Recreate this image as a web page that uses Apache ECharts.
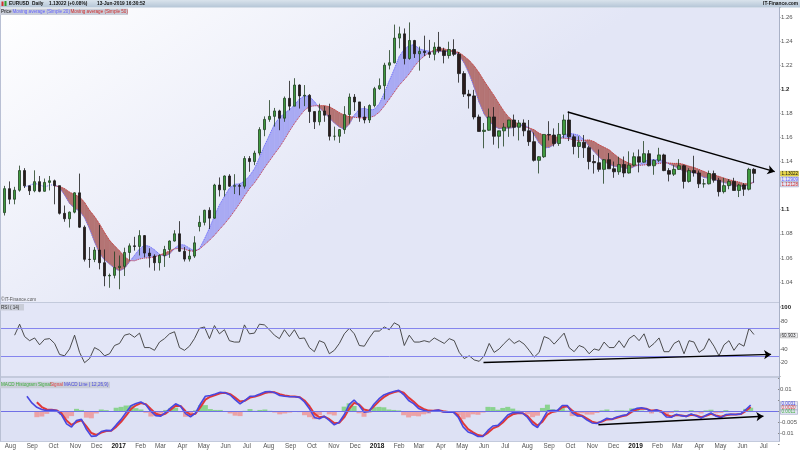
<!DOCTYPE html>
<html><head><meta charset="utf-8">
<script src="https://cdn.jsdelivr.net/npm/echarts@6/dist/echarts.min.js"></script>
<style>html,body{margin:0;padding:0;background:#fff}#c{width:800px;height:450px}</style>
</head><body><div id="c"></div>
<script>
// ---- weekly EUR/USD data (week centre dates) ----
const dates = [
'2016-07-27','2016-08-03','2016-08-10','2016-08-17','2016-08-24','2016-08-31','2016-09-07','2016-09-14','2016-09-21','2016-09-28',
'2016-10-05','2016-10-12','2016-10-19','2016-10-26','2016-11-02','2016-11-09','2016-11-16','2016-11-23','2016-11-30','2016-12-07',
'2016-12-14','2016-12-21','2016-12-28','2017-01-04','2017-01-11','2017-01-18','2017-01-25','2017-02-01','2017-02-08','2017-02-15',
'2017-02-22','2017-03-01','2017-03-08','2017-03-15','2017-03-22','2017-03-29','2017-04-05','2017-04-12','2017-04-19','2017-04-26',
'2017-05-03','2017-05-10','2017-05-17','2017-05-24','2017-05-31','2017-06-07','2017-06-14','2017-06-21','2017-06-28','2017-07-05',
'2017-07-12','2017-07-19','2017-07-26','2017-08-02','2017-08-09','2017-08-16','2017-08-23','2017-08-30','2017-09-06','2017-09-13',
'2017-09-20','2017-09-27','2017-10-04','2017-10-11','2017-10-18','2017-10-25','2017-11-01','2017-11-08','2017-11-15','2017-11-22',
'2017-11-29','2017-12-06','2017-12-13','2017-12-20','2017-12-27','2018-01-03','2018-01-10','2018-01-17','2018-01-24','2018-01-31',
'2018-02-07','2018-02-14','2018-02-21','2018-02-28','2018-03-07','2018-03-14','2018-03-21','2018-03-28','2018-04-04','2018-04-11',
'2018-04-18','2018-04-25','2018-05-02','2018-05-09','2018-05-16','2018-05-23','2018-05-30','2018-06-06','2018-06-13','2018-06-20',
'2018-06-27','2018-07-04','2018-07-11','2018-07-18','2018-07-25','2018-08-01','2018-08-08','2018-08-15','2018-08-22','2018-08-29',
'2018-09-05','2018-09-12','2018-09-19','2018-09-26','2018-10-03','2018-10-10','2018-10-17','2018-10-24','2018-10-31','2018-11-07',
'2018-11-14','2018-11-21','2018-11-28','2018-12-05','2018-12-12','2018-12-19','2018-12-26','2019-01-02','2019-01-09','2019-01-16',
'2019-01-23','2019-01-30','2019-02-06','2019-02-13','2019-02-20','2019-02-27','2019-03-06','2019-03-13','2019-03-20','2019-03-27',
'2019-04-03','2019-04-10','2019-04-17','2019-04-24','2019-05-01','2019-05-08','2019-05-15','2019-05-22','2019-05-29','2019-06-05',
'2019-06-12'];
const openP = [
1.0976,1.1175,1.1087,1.1162,1.1325,1.1198,1.1157,1.1233,1.1153,1.1227,
1.1240,1.1200,1.0970,1.0925,1.0980,1.1140,1.0855,1.0588,1.0587,1.0665,
1.0560,1.0450,1.0455,1.0520,1.0530,1.0645,1.0700,1.0695,1.0785,1.0640,
1.0615,1.0560,1.0620,1.0670,1.0740,1.0800,1.0655,1.0590,1.0615,1.0860,
1.0895,1.0995,1.0930,1.1205,1.1165,1.1280,1.1195,1.1200,1.1195,1.1425,
1.1400,1.1470,1.1665,1.1750,1.1775,1.1820,1.1760,1.1925,1.1860,1.2035,
1.1945,1.1950,1.1815,1.1730,1.1820,1.1785,1.1610,1.1610,1.1665,1.1790,
1.1935,1.1895,1.1770,1.1745,1.1865,1.2005,1.2030,1.2200,1.2220,1.2425,
1.2460,1.2255,1.2405,1.2295,1.2315,1.2305,1.2290,1.2350,1.2320,1.2280,
1.2330,1.2290,1.2130,1.1960,1.1945,1.1770,1.1650,1.1660,1.1770,1.1610,
1.1655,1.1685,1.1745,1.1685,1.1720,1.1655,1.1565,1.1410,1.1440,1.1625,
1.1620,1.1550,1.1625,1.1745,1.1605,1.1525,1.1560,1.1515,1.1400,1.1390,
1.1335,1.1415,1.1340,1.1315,1.1375,1.1305,1.1370,1.1440,1.1395,1.1465,
1.1365,1.1410,1.1455,1.1325,1.1295,1.1335,1.1365,1.1235,1.1325,1.1305,
1.1215,1.1215,1.1300,1.1245,1.1150,1.1200,1.1235,1.1160,1.1205,1.1170,
1.1335];
const highP = [
1.1198,1.1235,1.1190,1.1366,1.1345,1.1200,1.1327,1.1280,1.1259,1.1280,
1.1250,1.1200,1.1035,1.0985,1.1145,1.1300,1.0870,1.0690,1.0690,1.0873,
1.0670,1.0470,1.0653,1.0620,1.0685,1.0720,1.0775,1.0830,1.0790,1.0680,
1.0630,1.0630,1.0700,1.0745,1.0830,1.0905,1.0690,1.0670,1.0780,1.0950,
1.1000,1.1020,1.1215,1.1268,1.1285,1.1295,1.1295,1.1215,1.1445,1.1445,
1.1490,1.1685,1.1775,1.1910,1.1845,1.1830,1.1940,1.2070,1.2092,1.2040,
1.2035,1.1960,1.1815,1.1880,1.1860,1.1880,1.1690,1.1670,1.1860,1.1965,
1.1960,1.1895,1.1860,1.1875,1.2020,1.2090,1.2220,1.2325,1.2537,1.2520,
1.2505,1.2555,1.2410,1.2355,1.2445,1.2410,1.2390,1.2476,1.2345,1.2395,
1.2415,1.2310,1.2150,1.1995,1.1995,1.1790,1.1720,1.1840,1.1852,1.1650,
1.1720,1.1745,1.1790,1.1745,1.1750,1.1745,1.1640,1.1445,1.1625,1.1735,
1.1675,1.1720,1.1790,1.1815,1.1625,1.1610,1.1620,1.1530,1.1455,1.1500,
1.1420,1.1470,1.1400,1.1440,1.1442,1.1485,1.1475,1.1500,1.1570,1.1495,
1.1420,1.1514,1.1465,1.1345,1.1370,1.1420,1.1375,1.1345,1.1448,1.1325,
1.1255,1.1325,1.1325,1.1265,1.1265,1.1255,1.1265,1.1215,1.1220,1.1348,
1.1345];
const lowP = [
1.0952,1.1046,1.1045,1.1150,1.1180,1.1122,1.1145,1.1145,1.1150,1.1160,
1.1045,1.0960,1.0900,1.0852,1.0970,1.0850,1.0570,1.0518,1.0565,1.0505,
1.0365,1.0352,1.0430,1.0340,1.0450,1.0580,1.0660,1.0620,1.0605,1.0520,
1.0494,1.0495,1.0525,1.0600,1.0735,1.0650,1.0570,1.0570,1.0600,1.0820,
1.0870,1.0840,1.0925,1.1110,1.1110,1.1190,1.1130,1.1120,1.1175,1.1315,
1.1370,1.1450,1.1610,1.1730,1.1690,1.1660,1.1730,1.1825,1.1860,1.1840,
1.1860,1.1720,1.1670,1.1700,1.1730,1.1575,1.1575,1.1555,1.1630,1.1715,
1.1820,1.1730,1.1717,1.1720,1.1850,1.1995,1.1915,1.2165,1.2215,1.2340,
1.2206,1.2245,1.2260,1.2155,1.2275,1.2260,1.2240,1.2300,1.2215,1.2255,
1.2275,1.2055,1.1936,1.1840,1.1750,1.1650,1.1510,1.1655,1.1540,1.1510,
1.1525,1.1605,1.1610,1.1575,1.1610,1.1530,1.1400,1.1301,1.1430,1.1575,
1.1525,1.1530,1.1595,1.1570,1.1460,1.1430,1.1430,1.1335,1.1300,1.1315,
1.1216,1.1340,1.1265,1.1290,1.1270,1.1300,1.1360,1.1310,1.1390,1.1360,
1.1290,1.1395,1.1320,1.1235,1.1280,1.1330,1.1176,1.1225,1.1275,1.1180,
1.1183,1.1210,1.1225,1.1110,1.1135,1.1170,1.1160,1.1105,1.1115,1.1160,
1.1225];
const closeP = [
1.1175,1.1087,1.1162,1.1325,1.1198,1.1157,1.1233,1.1153,1.1227,1.1240,
1.1200,1.0970,1.0925,1.0980,1.1140,1.0855,1.0588,1.0587,1.0665,1.0560,
1.0450,1.0455,1.0520,1.0530,1.0645,1.0700,1.0695,1.0785,1.0640,1.0615,
1.0560,1.0620,1.0670,1.0740,1.0800,1.0655,1.0590,1.0615,1.0725,1.0895,
1.0995,1.0930,1.1205,1.1165,1.1280,1.1195,1.1200,1.1195,1.1425,1.1400,
1.1470,1.1665,1.1750,1.1775,1.1820,1.1760,1.1925,1.1860,1.2035,1.1945,
1.1950,1.1815,1.1730,1.1820,1.1785,1.1610,1.1610,1.1665,1.1790,1.1935,
1.1895,1.1770,1.1745,1.1865,1.2005,1.2030,1.2200,1.2220,1.2425,1.2460,
1.2255,1.2405,1.2295,1.2315,1.2305,1.2290,1.2350,1.2320,1.2280,1.2330,
1.2290,1.2130,1.1960,1.1945,1.1770,1.1650,1.1660,1.1770,1.1610,1.1655,
1.1685,1.1745,1.1685,1.1720,1.1655,1.1565,1.1410,1.1440,1.1625,1.1620,
1.1550,1.1625,1.1745,1.1605,1.1525,1.1560,1.1515,1.1400,1.1390,1.1335,
1.1415,1.1340,1.1315,1.1375,1.1305,1.1370,1.1440,1.1395,1.1465,1.1365,
1.1410,1.1455,1.1325,1.1295,1.1335,1.1365,1.1235,1.1325,1.1305,1.1215,
1.1215,1.1300,1.1245,1.1150,1.1200,1.1235,1.1160,1.1205,1.1170,1.1335,
1.1302];
const ma20 = [
null,null,null,null,1.1190,1.1202,1.1219,1.1207,1.1189,1.1203,
1.1209,1.1182,1.1122,1.1052,1.1012,1.0990,1.0933,1.0842,1.0733,1.0637,
1.0583,1.0549,1.0514,1.0493,1.0513,1.0568,1.0621,1.0674,1.0706,1.0695,
1.0667,1.0630,1.0613,1.0632,1.0678,1.0712,1.0706,1.0681,1.0656,1.0676,
1.0757,1.0847,1.0946,1.1040,1.1110,1.1178,1.1211,1.1214,1.1236,1.1280,
1.1339,1.1431,1.1531,1.1618,1.1709,1.1764,1.1798,1.1831,1.1868,1.1918,
1.1944,1.1942,1.1898,1.1845,1.1808,1.1762,1.1721,1.1687,1.1668,1.1710,
1.1786,1.1834,1.1842,1.1828,1.1833,1.1879,1.1968,1.2070,1.2167,1.2273,
1.2333,1.2363,1.2370,1.2336,1.2324,1.2316,1.2308,1.2316,1.2313,1.2315,
1.2313,1.2281,1.2218,1.2129,1.2016,1.1891,1.1794,1.1734,1.1693,1.1673,
1.1677,1.1677,1.1683,1.1701,1.1705,1.1679,1.1622,1.1553,1.1514,1.1517,
1.1542,1.1582,1.1620,1.1633,1.1628,1.1617,1.1580,1.1526,1.1483,1.1438,
1.1398,1.1378,1.1361,1.1356,1.1348,1.1338,1.1357,1.1375,1.1398,1.1417,
1.1413,1.1417,1.1407,1.1380,1.1362,1.1341,1.1319,1.1311,1.1311,1.1289,
1.1268,1.1262,1.1252,1.1236,1.1226,1.1216,1.1197,1.1193,1.1196,1.1205,
1.1235];
const ma50 = [
null,null,null,null,null,null,null,null,null,null,
1.1197,1.1192,1.1175,1.1146,1.1125,1.1107,1.1060,1.0995,1.0943,1.0881,
1.0810,1.0746,1.0700,1.0658,1.0610,1.0578,1.0576,1.0591,1.0599,1.0601,
1.0609,1.0623,1.0639,1.0657,1.0675,1.0680,1.0673,1.0659,1.0655,1.0673,
1.0709,1.0746,1.0788,1.0836,1.0882,1.0933,1.0990,1.1050,1.1114,1.1174,
1.1223,1.1283,1.1347,1.1405,1.1463,1.1518,1.1582,1.1652,1.1716,1.1773,
1.1825,1.1856,1.1863,1.1864,1.1864,1.1855,1.1832,1.1806,1.1784,1.1772,
1.1768,1.1763,1.1762,1.1765,1.1778,1.1810,1.1861,1.1918,1.1977,1.2035,
1.2080,1.2129,1.2189,1.2239,1.2276,1.2304,1.2325,1.2337,1.2335,1.2321,
1.2316,1.2304,1.2274,1.2239,1.2193,1.2135,1.2068,1.2006,1.1945,1.1878,
1.1814,1.1764,1.1731,1.1706,1.1689,1.1679,1.1663,1.1634,1.1618,1.1617,
1.1608,1.1596,1.1593,1.1590,1.1578,1.1571,1.1576,1.1579,1.1565,1.1539,
1.1518,1.1497,1.1462,1.1429,1.1406,1.1386,1.1372,1.1368,1.1372,1.1377,
1.1378,1.1384,1.1390,1.1387,1.1384,1.1385,1.1375,1.1361,1.1350,1.1334,
1.1317,1.1299,1.1288,1.1276,1.1262,1.1249,1.1239,1.1229,1.1216,1.1216,
1.1226];
const rsi14 = [
null,null,60,76,58,52,56,46,54,55,
48,32,30,40,60,35,20,26,42,38,
30,33,45,48,60,62,57,63,42,42,
38,50,55,62,65,42,38,44,55,70,
72,55,74,62,68,52,50,50,75,62,
63,76,75,68,60,55,68,58,68,55,
56,42,36,52,49,33,38,48,62,70,
62,45,44,56,66,66,72,68,78,74,
45,60,50,50,52,50,56,52,48,55,
52,35,26,30,24,22,30,48,35,40,
48,55,48,52,47,38,28,35,58,55,
47,55,63,42,36,45,42,33,40,38,
50,42,42,52,42,55,60,52,62,42,
48,56,36,36,48,52,33,52,50,35,
40,55,44,30,46,52,38,48,44,70,
61];
const macdLine = [
null,null,null,null,0.0070,0.0040,0.0020,0.0010,0.0005,0.0008,
0.0005,-0.0015,-0.0055,-0.0070,-0.0040,-0.0035,-0.0080,-0.0112,-0.0110,-0.0090,
-0.0085,-0.0086,-0.0060,-0.0035,-0.0004,0.0027,0.0037,0.0044,0.0031,0.0001,
-0.0018,-0.0020,-0.0003,0.0017,0.0036,0.0025,-0.0009,-0.0023,-0.0006,0.0035,
0.0070,0.0074,0.0080,0.0088,0.0086,0.0076,0.0055,0.0036,0.0052,0.0070,
0.0071,0.0080,0.0090,0.0092,0.0086,0.0074,0.0070,0.0068,0.0068,0.0065,
0.0044,0.0013,-0.0026,-0.0032,-0.0021,-0.0040,-0.0060,-0.0048,-0.0014,0.0032,
0.0053,0.0029,-0.0002,0.0001,0.0034,0.0058,0.0076,0.0085,0.0092,0.0097,
0.0078,0.0051,0.0037,0.0015,0.0007,0.0000,0.0004,0.0008,-0.0001,-0.0002,
-0.0001,-0.0025,-0.0069,-0.0092,-0.0100,-0.0113,-0.0112,-0.0085,-0.0065,-0.0062,
-0.0040,-0.0015,-0.0005,-0.0005,-0.0007,-0.0026,-0.0057,-0.0072,-0.0036,0.0003,
0.0005,0.0005,0.0028,0.0028,-0.0005,-0.0019,-0.0021,-0.0038,-0.0051,-0.0054,
-0.0042,-0.0030,-0.0034,-0.0024,-0.0018,-0.0014,0.0007,0.0015,0.0018,0.0012,
0.0001,0.0009,-0.0001,-0.0024,-0.0025,-0.0012,-0.0018,-0.0022,-0.0010,-0.0019,
-0.0029,-0.0016,-0.0006,-0.0020,-0.0027,-0.0013,-0.0012,-0.0013,-0.0010,0.0009,
0.0030];
const macdSignal = [
null,null,null,null,null,null,0.0043,0.0021,0.0010,0.0009,
0.0006,-0.0008,-0.0040,-0.0060,-0.0047,-0.0039,-0.0067,-0.0097,-0.0106,-0.0095,
-0.0088,-0.0087,-0.0069,-0.0046,-0.0018,0.0012,0.0029,0.0039,0.0034,0.0012,
-0.0009,-0.0016,-0.0008,0.0009,0.0027,0.0026,0.0002,-0.0014,-0.0009,0.0021,
0.0055,0.0068,0.0076,0.0084,0.0086,0.0080,0.0064,0.0046,0.0050,0.0064,
0.0069,0.0076,0.0085,0.0090,0.0088,0.0080,0.0074,0.0070,0.0069,0.0066,
0.0051,0.0025,-0.0009,-0.0025,-0.0022,-0.0034,-0.0052,-0.0050,-0.0026,0.0013,
0.0040,0.0033,0.0010,0.0004,0.0024,0.0047,0.0066,0.0080,0.0088,0.0094,
0.0086,0.0064,0.0046,0.0025,0.0013,0.0005,0.0004,0.0007,0.0002,-0.0001,
-0.0001,-0.0017,-0.0052,-0.0079,-0.0094,-0.0106,-0.0110,-0.0096,-0.0076,-0.0067,
-0.0049,-0.0026,-0.0012,-0.0007,-0.0007,-0.0020,-0.0045,-0.0063,-0.0045,-0.0013,
-0.0001,0.0003,0.0020,0.0025,0.0005,-0.0011,-0.0018,-0.0031,-0.0045,-0.0051,
-0.0045,-0.0035,-0.0034,-0.0028,-0.0021,-0.0016,-0.0001,0.0010,0.0015,0.0013,
0.0005,0.0007,0.0002,-0.0015,-0.0022,-0.0015,-0.0017,-0.0021,-0.0014,-0.0017,
-0.0025,-0.0019,-0.0010,-0.0017,-0.0023,-0.0016,-0.0013,-0.0013,-0.0011,0.0003,
0.0021];
const macdHist = [
null,null,null,null,null,null,-0.0025,-0.0022,-0.0010,-0.0001,
-0.0002,-0.0014,-0.0031,-0.0020,0.0013,0.0008,-0.0027,-0.0030,-0.0008,0.0010,
0.0007,0.0002,0.0018,0.0022,0.0028,0.0029,0.0016,0.0010,-0.0005,-0.0022,
-0.0020,-0.0008,0.0008,0.0016,0.0018,-0.0002,-0.0023,-0.0016,0.0006,0.0029,
0.0030,0.0012,0.0008,0.0008,0.0000,-0.0008,-0.0018,-0.0020,0.0004,0.0012,
0.0004,0.0008,0.0010,0.0004,-0.0004,-0.0012,-0.0008,-0.0004,-0.0001,-0.0002,
-0.0016,-0.0025,-0.0034,-0.0015,0.0002,-0.0012,-0.0017,0.0002,0.0023,0.0038,
0.0026,-0.0007,-0.0023,-0.0005,0.0020,0.0022,0.0020,0.0010,0.0008,0.0006,
-0.0016,-0.0026,-0.0019,-0.0021,-0.0012,-0.0008,0.0000,0.0003,-0.0005,-0.0002,
0.0000,-0.0016,-0.0034,-0.0026,-0.0012,-0.0014,-0.0004,0.0022,0.0021,0.0009,
0.0017,0.0022,0.0014,0.0005,0.0000,-0.0012,-0.0025,-0.0018,0.0017,0.0032,
0.0011,0.0004,0.0017,0.0005,-0.0020,-0.0016,-0.0007,-0.0013,-0.0013,-0.0006,
0.0006,0.0010,0.0001,0.0006,0.0006,0.0005,0.0015,0.0010,0.0005,-0.0002,
-0.0008,0.0003,-0.0006,-0.0017,-0.0006,0.0006,-0.0002,-0.0003,0.0007,-0.0003,
-0.0008,0.0006,0.0009,-0.0007,-0.0006,0.0007,0.0003,0.0000,0.0002,0.0013,
0.0018];
// trend-line annotations (date, value)
const priceTrend = [['2018-09-24', 1.1811], ['2019-07-11', 1.1316]];
const rsiTrend = [['2018-05-29', 20.2], ['2019-07-06', 32.1]];
const macdTrend = [['2018-11-09', -0.0059], ['2019-06-30', -0.0021]];
const monthNames = ['Jan','Feb','Mar','Apr','May','Jun','Jul','Aug','Sep','Oct','Nov','Dec'];

// ---- build ----
const ts = d => Date.parse(d + 'T12:00:00Z');
const T = dates.map(ts);
const X_MIN = Date.UTC(2016, 6, 21), X_MAX = Date.UTC(2019, 6, 17, 14);
const candles = T.map((t, i) => [t, openP[i], closeP[i], lowP[i], highP[i]]);
const pairs = arr => T.map((t, i) => [t, arr[i]]);
const band = [];
for (let i = 0; i < T.length - 1; i++) {
  if (ma20[i] != null && ma50[i] != null) band.push([T[i], ma20[i], ma50[i], T[i + 1], ma20[i + 1], ma50[i + 1]]);
}
const tl = (a, style) => [Object.assign({ coord: [ts(a[0][0]), a[0][1]], symbol: 'none' }, style ? { lineStyle: style } : {}),
  { coord: [ts(a[1][0]), a[1][1]], symbol: 'arrow', symbolSize: 7 }];
const FONT = 'Liberation Sans, Arial, sans-serif';
const BLUE_BAND = '#a9aaf3', RED_BAND = '#b47474';
const TREND = { color: '#000', width: 1.4, type: 'solid' };
const isMult = (v, step) => Math.abs(v / step - Math.round(v / step)) < 1e-6;

const xBase = (gi, show) => ({
  type: 'time', gridIndex: gi, min: X_MIN, max: X_MAX,
  minInterval: 28 * 864e5, maxInterval: 31 * 864e5,
  splitLine: { show: false }, axisLine: { show: false }, axisTick: { show: false },
  axisLabel: show ? {
    show: true, fontSize: 6.3, color: '#555', fontFamily: FONT, margin: 2, hideOverlap: false,
    formatter: v => { const d = new Date(v); return d.getMonth() === 0 ? '{y|' + d.getFullYear() + '}' : monthNames[d.getMonth()]; },
    rich: { y: { fontWeight: 'bold', color: '#111', fontSize: 6.5, fontFamily: FONT } }
  } : { show: false },
  offset: show ? -3.7 : 0
});
const yLab = (fmt) => ({ fontSize: 6, color: '#555', fontFamily: FONT, margin: 2, formatter: fmt,
  rich: { b: { fontWeight: 'bold', color: '#222', fontSize: 6, fontFamily: FONT } } });
const yTick = { show: true, length: 1.5, lineStyle: { color: '#888' } };

const txt = (x, y, s, color, size, bold, align) => ({ type: 'text', x, y, z: 60,
  style: { text: s, fill: color, font: (bold ? 'bold ' : '') + size + 'px ' + FONT, textVerticalAlign: 'middle', textAlign: align || 'left' } });
const box = (x, y, w, h, fill, stroke) => ({ type: 'rect', z: 55, shape: { x, y, width: w, height: h }, style: { fill, stroke: stroke || null, lineWidth: stroke ? 0.6 : 0 } });

// price scale: 1.26 at y=17, 1.04 at y=282 (1204.5 px per unit); grid starts under the title bar
const PX = 1204.5, P_TOP = 7.5, P_MAX = 1.26 + (17 - P_TOP) / PX, P_MIN = 1.02;

const chart = echarts.init(document.getElementById('c'), null, { renderer: 'canvas' });
chart.setOption({
  animation: false,
  textStyle: { fontFamily: FONT },
  grid: [
    { left: 0, right: 21, top: P_TOP, height: (P_MAX - P_MIN) * PX },
    { left: 0, right: 21, top: 307.7, height: 68.75 },
    { left: 0, right: 21, top: 378.7, height: 66.45 }
  ],
  xAxis: [xBase(0, false), xBase(1, false), xBase(2, true)],
  yAxis: [
    { gridIndex: 0, type: 'value', position: 'right', min: P_MIN, max: P_MAX, interval: 0.02,
      splitLine: { show: false }, axisLine: { show: false }, axisTick: yTick,
      axisLabel: yLab(v => { if (v < 1.03 || v > 1.265 || !isMult(v, 0.02) || Math.abs(v - 1.12) < 1e-6) return ''; const s = String(+v.toFixed(2)); return isMult(v, 0.1) ? '{b|' + s + '}' : s; }) },
    { gridIndex: 1, type: 'value', position: 'right', min: 0, max: 100, interval: 20,
      splitLine: { show: false }, axisLine: { show: false }, axisTick: yTick,
      axisLabel: yLab(v => (v === 0 || v === 60) ? '' : (v === 100 ? '{b|100}' : String(v))) },
    { gridIndex: 2, type: 'value', position: 'right', min: -0.015, max: 0.015, interval: 0.005,
      splitLine: { show: false }, axisLine: { show: false }, axisTick: yTick,
      axisLabel: yLab(v => (Math.abs(v) > 0.012 || (v > -1e-9 && v < 0.008)) ? '' : String(+v.toFixed(3))) }
  ],
  series: [
    { type: 'custom', name: 'band', xAxisIndex: 0, yAxisIndex: 0, z: 1, clip: true,
      dimensions: ['t', 'a', 'b', 't1', 'a1', 'b1'], encode: { x: [0, 3], y: [1, 2, 4, 5] },
      data: band,
      renderItem: function (params, api) {
        const t0 = api.value(0), a0 = api.value(1), b0 = api.value(2), t1 = api.value(3), a1 = api.value(4), b1 = api.value(5);
        const d0 = a0 - b0, d1 = a1 - b1;
        const P = (t, v) => api.coord([t, v]);
        const poly = (pts, up) => ({ type: 'polygon', shape: { points: pts }, style: { fill: up ? BLUE_BAND : RED_BAND, stroke: up ? BLUE_BAND : RED_BAND, lineWidth: 0.6 } });
        const ch = [];
        if (d0 * d1 >= 0) {
          ch.push(poly([P(t0, a0), P(t1, a1), P(t1, b1), P(t0, b0)], (d0 + d1) >= 0));
        } else {
          const f = d0 / (d0 - d1), tc = t0 + f * (t1 - t0), vc = a0 + f * (a1 - a0);
          ch.push(poly([P(t0, a0), P(tc, vc), P(t0, b0)], d0 > 0));
          ch.push(poly([P(tc, vc), P(t1, a1), P(t1, b1)], d1 > 0));
        }
        return { type: 'group', children: ch };
      } },
    { type: 'line', name: 'MA20', xAxisIndex: 0, yAxisIndex: 0, z: 2, data: pairs(ma20), showSymbol: false,
      lineStyle: { color: '#6b6bff', width: 1, type: 'dotted' } },
    { type: 'line', name: 'MA50', xAxisIndex: 0, yAxisIndex: 0, z: 2, data: pairs(ma50), showSymbol: false,
      lineStyle: { color: '#d03a3a', width: 1, type: 'dotted' } },
    { type: 'candlestick', name: 'EURUSD', xAxisIndex: 0, yAxisIndex: 0, z: 3, barWidth: 3,
      encode: { x: 0, y: [1, 2, 3, 4] }, data: candles,
      itemStyle: { color: '#3f9a3f', color0: '#2a1c1c', borderColor: '#1f3f1f', borderColor0: '#1a1a1a', borderWidth: 0.8 },
      markLine: { silent: true, animation: false, symbol: 'none', label: { show: false },
        lineStyle: TREND, data: [tl(priceTrend)] } },
    { type: 'line', name: 'RSI', xAxisIndex: 1, yAxisIndex: 1, z: 3, data: pairs(rsi14), showSymbol: false,
      lineStyle: { color: '#3a3a3a', width: 0.9 },
      markLine: { silent: true, animation: false, symbol: 'none', label: { show: false },
        lineStyle: { color: '#8585ee', width: 1, type: 'solid' },
        data: [{ yAxis: 70 }, { yAxis: 30 }, tl(rsiTrend, TREND)] } },
    { type: 'bar', name: 'Hist', xAxisIndex: 2, yAxisIndex: 2, z: 2, barWidth: 5, data: pairs(macdHist),
      itemStyle: { color: p => (p.value[1] >= 0 ? 'rgba(110,205,110,0.75)' : 'rgba(240,140,140,0.75)') } },
    { type: 'line', name: 'Signal', xAxisIndex: 2, yAxisIndex: 2, z: 3, data: pairs(macdSignal), showSymbol: false,
      lineStyle: { color: '#e03838', width: 2 } },
    { type: 'line', name: 'MACD', xAxisIndex: 2, yAxisIndex: 2, z: 4, data: pairs(macdLine), showSymbol: false,
      lineStyle: { color: '#4848e0', width: 1.6 },
      markLine: { silent: true, animation: false, symbol: 'none', label: { show: false },
        lineStyle: { color: '#7070e6', width: 1, type: 'solid' },
        data: [{ yAxis: 0 }, tl(macdTrend, TREND)] } }
  ],
  graphic: { elements: [
    // pane backgrounds
    { type: 'rect', z: -5, shape: { x: 0, y: 7.5, width: 779.5, height: 295 },
      style: { fill: new echarts.graphic.LinearGradient(0, 0, 0.25, 1, [{ offset: 0, color: '#ffffff' }, { offset: 1, color: '#e3e6f6' }]) } },
    { type: 'rect', z: -5, shape: { x: 0, y: 302.5, width: 779.5, height: 74 }, style: { fill: '#e3e6f7', stroke: '#b9c0d4', lineWidth: 0.8 } },
    { type: 'rect', z: -5, shape: { x: 0, y: 377.5, width: 779.5, height: 64 }, style: { fill: '#dde1f4', stroke: '#b9c0d4', lineWidth: 0.8 } },
    { type: 'line', z: 50, shape: { x1: 779.5, y1: 7.5, x2: 779.5, y2: 441.5 }, style: { stroke: '#a9b1c6', lineWidth: 1 } },
    { type: 'line', z: 50, shape: { x1: 0.5, y1: 7.5, x2: 0.5, y2: 441.5 }, style: { stroke: '#b9c0d4', lineWidth: 1 } },
    // title bar
    { type: 'rect', z: 50, shape: { x: 0, y: 0, width: 800, height: 7.5 },
      style: { fill: new echarts.graphic.LinearGradient(0, 0, 0, 1, [{ offset: 0, color: '#d9e3ec' }, { offset: 1, color: '#b4c5d6' }]) } },
    { type: 'rect', z: 56, shape: { x: 1.5, y: 1.5, width: 2, height: 4.5 }, style: { fill: '#d03030' } },
    { type: 'rect', z: 56, shape: { x: 4.5, y: 1, width: 2, height: 5 }, style: { fill: '#30a030' } },
    txt(9, 4, 'EURUSD', '#111', 4.8, true),
    txt(32, 4, 'Daily', '#111', 4.8, true),
    txt(49, 4, '1.13022 (+0.08%)', '#111', 4.8, true),
    txt(97, 4, '13-Jun-2019 16:30:52', '#111', 4.8, true),
    txt(798, 4, 'IT-Finance.com', '#111', 4.8, true, 'right'),
    // price legend
    box(0, 8.5, 128, 6.5, '#c9cdd8'),
    txt(1, 11.8, 'Price', '#111', 4.6),
    txt(12.5, 11.8, 'Moving average (Simple 20)', '#6060ff', 4.6),
    txt(70.5, 11.8, 'Moving average (Simple 50)', '#d02828', 4.6),
    txt(1, 299.5, '\u00a9IT-Finance.com', '#555', 4.6),
    // RSI legend
    box(0, 304, 24, 6.5, '#c9cdd8'),
    txt(1, 307.3, 'RSI ( 14)', '#333', 4.6),
    // MACD legend
    box(0, 381.8, 110, 6.5, '#c9cdd8'),
    txt(1, 385.1, 'MACD Histogram Signal', '#3fae3f', 4.6),
    txt(50, 385.1, 'Signal', '#e04040', 4.6),
    txt(64, 385.1, 'MACD Line ( 12,26,9)', '#4848e0', 4.6),
    // value boxes (right scale)
    box(780.5, 171.3, 18, 4.8, '#e9d84c', '#b8a830'), txt(781.5, 173.8, '1.13022', '#111', 4.6),
    box(780.5, 177, 18, 4.6, '#e4e6f4', '#9aa0c0'), txt(781.5, 179.4, '1.12909', '#5a5aff', 4.6),
    box(780.5, 182.2, 18, 4.6, '#e4e6f4', '#9aa0c0'), txt(781.5, 184.6, '1.12128', '#d02828', 4.6),
    box(780.5, 333.2, 17, 4.6, '#f2f2f4', '#999'), txt(781.5, 335.6, '60.903', '#222', 4.6),
    box(780.5, 401.5, 17, 4.4, '#e4e6f4', '#9aa0c0'), txt(781.5, 403.8, '0.0031', '#4848e0', 4.6),
    box(780.5, 405.7, 17, 4.4, '#e4e6f4', '#9aa0c0'), txt(781.5, 408, '0.0020', '#e04040', 4.6),
    box(780.5, 409.9, 17, 4.4, '#e4e6f4', '#9aa0c0'), txt(781.5, 412.2, '0.0011', '#3fae3f', 4.6)
  ] }
});
</script></body></html>
